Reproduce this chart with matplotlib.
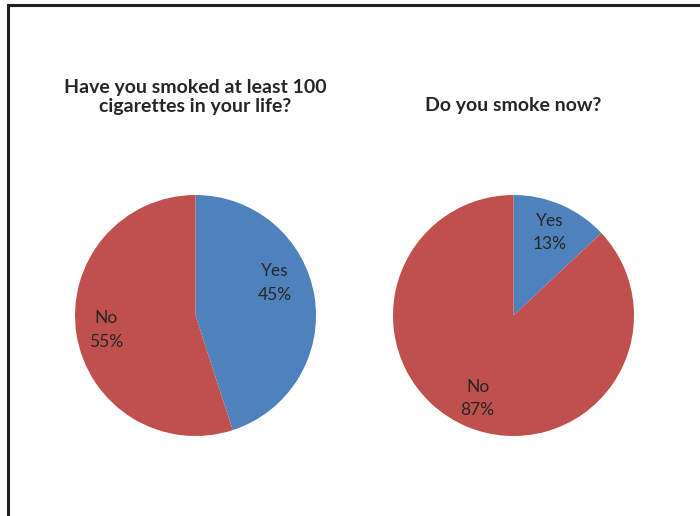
import matplotlib.pyplot as plt

# Data
titles = ['Have you smoked at least 100\ncigarettes in your life?', 'Do you smoke now?']
labels = ['Yes', 'No']
smoked_100 = [45, 55]
smoke_now = [13, 87]
colors = ['#4F81BD', '#C0504D']

plt.rcParams['font.family'] = ['Lato', 'DejaVu Sans']

W, H = 700, 516
fig = plt.figure(figsize=(W / 100, H / 100), dpi=100)

# Chart frame (cropped at right and bottom)
frame = plt.Rectangle((8 / W, -0.1), 1.2, (H - 5) / H + 0.1, transform=fig.transFigure,
                      fill=False, edgecolor='#231F20', linewidth=2.2)
fig.patches.append(frame)


def draw_pie(left_px, values):
    ax = fig.add_axes([left_px / W, 80 / H, 241 / W, 241 / H])
    wedges, texts = ax.pie(values, colors=colors, startangle=90, counterclock=False,
                           labels=[f'{l}\n{v}%' for l, v in zip(labels, values)],
                           labeldistance=0.75, radius=1.0,
                           textprops=dict(fontsize=12.5, color='#262626', linespacing=1.6,
                                          ha='center', va='center'),
                           wedgeprops=dict(linewidth=0))
    for t in texts:
        t.set_horizontalalignment('center')
    ax.set_xlim(-1, 1)
    ax.set_ylim(-1, 1)
    ax.set_aspect('equal')
    ax.axis('off')
    return ax, texts


ax1, t1 = draw_pie(75, smoked_100)
ax2, t2 = draw_pie(393, smoke_now)

# Excel best-fit nudges the "Yes" label of the first pie upward
x, y = t1[0].get_position()
t1[0].set_position((x - 0.08, y + 0.15))

fig.text(195 / W, 1 - 97 / H, titles[0], ha='center', va='center', fontsize=14,
         fontweight='bold', color='#262626', linespacing=1.2)
fig.text(513 / W, 1 - 106 / H, titles[1], ha='center', va='center', fontsize=14,
         fontweight='bold', color='#262626')

fig.savefig('out.png', dpi=100, facecolor='white')
